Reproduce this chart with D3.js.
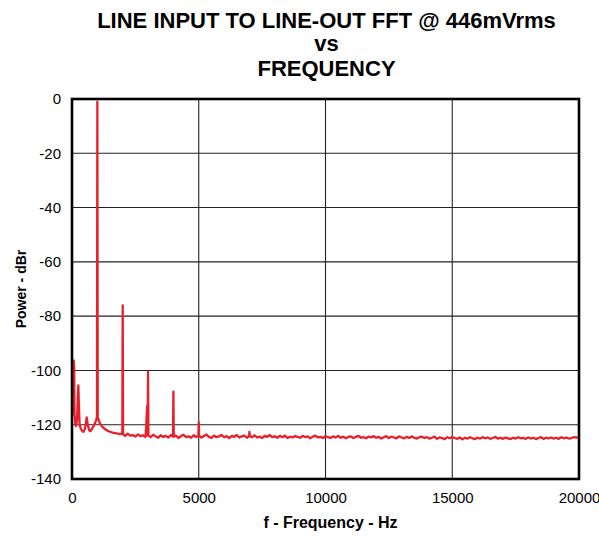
<!DOCTYPE html>
<html><head><meta charset="utf-8">
<script src="https://cdn.jsdelivr.net/npm/d3@7/dist/d3.min.js"></script>
<style>body{margin:0;background:#fff}svg{display:block}text{font-family:"Liberation Sans",Arial,sans-serif}</style>
</head><body>
<script>
// ---- Data ----
const titleLines = ["LINE INPUT TO LINE-OUT FFT @ 446mVrms", "vs", "FREQUENCY"];
const xLabel = "f - Frequency - Hz";
const yLabel = "Power - dBr";
const xTicks = [0, 5000, 10000, 15000, 20000];
const yTicks = [0, -20, -40, -60, -80, -100, -120, -140];

// low-frequency part of the spectrum [Hz, dBr] incl. fundamental
const lowFreq = [
  [0,-117],[20,-116],[40,-112],[55,-96.3],[70,-96.5],[85,-99],[100,-116],[130,-119.5],
  [160,-120.5],[200,-118],[230,-110],[250,-105.5],[270,-112],[300,-120],[350,-121.5],
  [400,-122.3],[450,-122.6],[500,-121.8],[550,-119.5],[580,-117.3],[620,-120],[680,-122],
  [720,-122.4],[780,-121.6],[850,-120.5],[900,-119.6],[950,-118.4],[985,-117.2],[1000,-1],
  [1015,-117.2],[1060,-118.5],[1100,-119.5],[1200,-120.8],[1300,-121.6],[1400,-122.2],
  [1500,-122.6],[1600,-122.9],[1700,-123.1],[1800,-123.3],[1900,-123.4]
];

// noise floor, 2000 Hz .. 20000 Hz in 100 Hz bins
const floorStart = 2000, floorStep = 100;
const floorDb = [
  -123.5,-124.1,-123.3,-124.0,-123.8,-124.4,-123.6,-124.2,-123.9,-124.5,
  -124.0,-124.6,-123.7,-124.3,-124.8,-123.9,-124.5,-124.1,-124.7,-123.8,
  -124.4,-124.0,-124.9,-124.2,-123.7,-124.6,-124.3,-124.8,-123.9,-124.5,
  -124.1,-124.7,-124.2,-123.6,-124.5,-124.9,-124.0,-124.6,-124.3,-123.8,
  -124.6,-124.2,-124.9,-124.1,-124.5,-123.8,-124.7,-124.3,-124.0,-124.8,
  -124.2,-124.6,-123.9,-124.7,-124.4,-124.9,-124.1,-124.5,-123.8,-124.6,
  -124.3,-124.8,-124.1,-124.6,-124.0,-124.9,-124.4,-124.7,-124.2,-124.5,
  -124.8,-124.1,-124.6,-124.3,-125.0,-124.4,-124.0,-124.7,-124.5,-124.9,
  -124.2,-124.6,-124.9,-124.3,-124.7,-124.1,-124.8,-124.4,-125.0,-124.5,
  -124.3,-124.9,-124.5,-124.1,-124.8,-124.6,-125.0,-124.4,-124.7,-124.2,
  -124.8,-124.5,-125.1,-124.6,-124.2,-124.9,-124.4,-124.7,-125.0,-124.3,
  -124.7,-125.0,-124.5,-124.9,-124.3,-124.8,-125.1,-124.6,-124.4,-124.9,
  -124.6,-125.1,-124.8,-124.4,-125.2,-124.7,-124.9,-125.3,-124.6,-125.0,
  -124.5,-124.9,-125.2,-124.7,-125.4,-124.8,-125.1,-124.6,-125.0,-125.3,
  -124.8,-125.1,-124.6,-125.0,-124.7,-125.2,-124.9,-124.5,-125.1,-124.8,
  -125.2,-124.7,-125.0,-125.3,-124.8,-125.1,-124.6,-125.0,-124.9,-125.2,
  -124.7,-125.1,-124.8,-125.3,-124.9,-124.6,-125.2,-124.8,-125.0,-124.7,
  -125.1,-124.8,-125.2,-124.6,-125.0,-124.7,-125.1,-124.9,-124.6,-124.8,
  -124.6
];

// harmonic / spur peaks [Hz, dBr]
const peaks = [[2000,-76],[3000,-100.5],[4000,-107.8],[5000,-119.1],[7000,-122.6]];
// shoulder just below the 3rd harmonic [Hz, dBr]
const shoulder = [[2930,-120],[2965,-113],[2990,-113]];

// ---- Build series ----
const series = lowFreq.slice();
const peakMap = new Map(peaks.map(p => [p[0], p[1]]));
floorDb.forEach((v, i) => {
  const f = floorStart + i * floorStep;
  if (f === 3000) shoulder.forEach(s => series.push(s));
  if (peakMap.has(f)) {
    series.push([f - 15, v]);
    series.push([f, peakMap.get(f)]);
    series.push([f + 15, v]);
  } else {
    series.push([f, v]);
  }
});

// ---- Layout ----
const W = 599, H = 540;
const m = {left: 72, right: 579, top: 99, bottom: 479};
const svg = d3.select("body").append("svg").attr("width", W).attr("height", H);
const x = d3.scaleLinear().domain([0, 20000]).range([m.left, m.right]);
const y = d3.scaleLinear().domain([-140, 0]).range([m.bottom, m.top]);

// gridlines
svg.append("g").selectAll("line").data(xTicks.slice(1, -1)).join("line")
  .attr("x1", d => x(d)).attr("x2", d => x(d)).attr("y1", m.top).attr("y2", m.bottom)
  .attr("stroke", "#222").attr("stroke-width", 1.1);
svg.append("g").selectAll("line").data(yTicks.slice(1, -1)).join("line")
  .attr("y1", d => y(d)).attr("y2", d => y(d)).attr("x1", m.left).attr("x2", m.right)
  .attr("stroke", "#222").attr("stroke-width", 1.1);

// trace
svg.append("clipPath").attr("id", "c").append("rect")
  .attr("x", m.left).attr("y", m.top - 4).attr("width", m.right - m.left).attr("height", m.bottom - m.top + 4);
svg.append("path").datum(series)
  .attr("clip-path", "url(#c)")
  .attr("d", d3.line().x(d => x(d[0])).y(d => y(d[1])))
  .attr("fill", "none").attr("stroke", "#ea1f2b").attr("stroke-width", 2.3)
  .attr("stroke-linejoin", "round");

// frame
svg.append("rect").attr("x", m.left).attr("y", m.top)
  .attr("width", m.right - m.left).attr("height", m.bottom - m.top)
  .attr("fill", "none").attr("stroke", "#000").attr("stroke-width", 2.6);

// axes (labels only)
const fmt = d => String(d);
const xAxis = d3.axisBottom(x).tickValues(xTicks).tickSize(0).tickPadding(0).tickFormat(fmt);
const gx = svg.append("g").attr("transform", `translate(0,${m.bottom})`).call(xAxis);
gx.select(".domain").remove();
gx.selectAll("text").attr("font-size", 15).attr("font-family", "Liberation Sans, Arial, sans-serif")
  .attr("fill", "#000").attr("dy", null).attr("y", 24);

const yAxis = d3.axisLeft(y).tickValues(yTicks).tickSize(0).tickPadding(11).tickFormat(fmt);
const gy = svg.append("g").attr("transform", `translate(${m.left},0)`).call(yAxis);
gy.select(".domain").remove();
gy.selectAll("text").attr("font-size", 15).attr("font-family", "Liberation Sans, Arial, sans-serif").attr("fill", "#000");

// titles
const cx = (m.left + m.right) / 2;
svg.append("g").selectAll("text").data(titleLines).join("text")
  .attr("x", cx + 1).attr("y", (d, i) => [28, 51, 76][i])
  .attr("text-anchor", "middle").attr("font-weight", "bold").attr("font-size", 22).text(d => d);
svg.append("text").attr("x", cx + 5).attr("y", 528).attr("text-anchor", "middle")
  .attr("font-weight", "bold").attr("font-size", 16).text(xLabel);
svg.append("text").attr("transform", `translate(26,${(m.top + m.bottom) / 2}) rotate(-90)`)
  .attr("text-anchor", "middle").attr("font-weight", "bold").attr("font-size", 14).text(yLabel);
</script>
</body></html>
